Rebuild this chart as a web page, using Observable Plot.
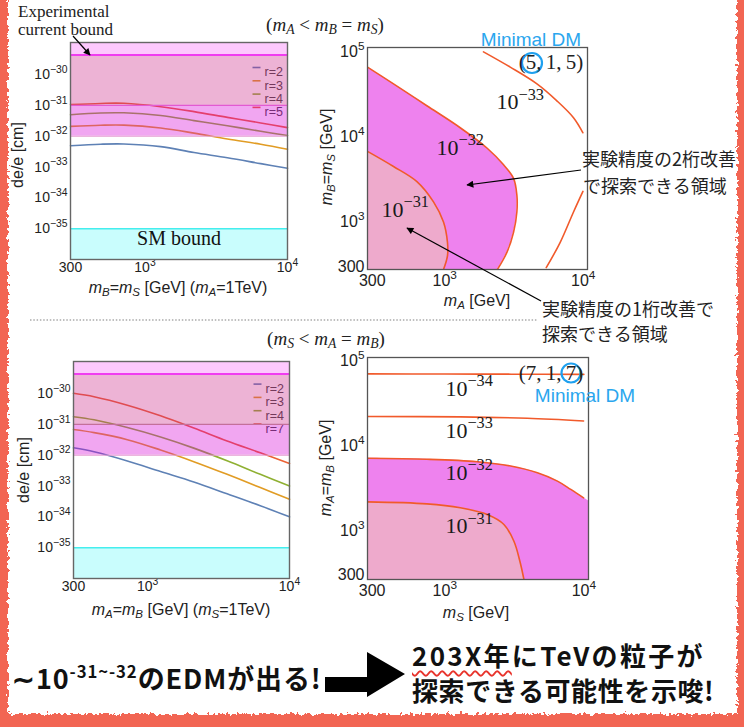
<!DOCTYPE html>
<html><head><meta charset="utf-8">
<script src="https://cdn.jsdelivr.net/npm/d3@7"></script>
<script src="https://cdn.jsdelivr.net/npm/@observablehq/plot@0.6"></script>
<style>
html,body{margin:0;padding:0;background:#fff;}
#page{position:relative;width:744px;height:727px;overflow:hidden;background:#fff;font-family:"Liberation Sans",Arial,sans-serif;color:#222;}
.abs{position:absolute;white-space:nowrap;line-height:1;}
.serif{font-family:"Liberation Serif","Times New Roman",serif;}
.jp{font-family:"Noto Sans CJK JP",sans-serif;}
sub{font-size:72%;vertical-align:-0.28em;line-height:0;}
sup{line-height:0;}
</style></head>
<body><div id="page"></div>
<script>
// ---------------- DATA ----------------
const massTicks = [300, 1000, 10000];
const massTickLabels = ["300", "10^3", "10^4"];
const heavyTicks = [300, 1000, 10000, 100000];
const heavyTickLabels = ["300", "10^3", "10^4", "10^5"];
const edmTicks = [1e-35, 1e-34, 1e-33, 1e-32, 1e-31, 1e-30];
const edmTickLabels = ["10^-35", "10^-34", "10^-33", "10^-32", "10^-31", "10^-30"];
const edmDomain = [1e-36, 1.1e-29];
const massDomain = [300, 10000];
const expBound = 4.3e-30;      // experimental current bound
const reachOneDigit = 1e-31;   // one order of magnitude improvement
const reachTwoDigit = 1e-32;   // two orders of magnitude improvement
const smBound = 1e-35;         // SM bound
const seriesColors = ["#5e81b5", "#e19c24", "#8fb032", "#eb6235"];

// upper-left panel: x = mB = mS (mA = 1 TeV)
const ulMass = [300, 488, 711, 1288, 2208, 3786, 6490, 10000];
const ulR2 = [4.9e-33, 5.5e-33, 5.6e-33, 4.6e-33, 2.95e-33, 2.0e-33, 1.29e-33, 9.1e-34];
const ulR3 = [2.09e-32, 2.27e-32, 2.29e-32, 1.86e-32, 1.26e-32, 8.1e-33, 5.5e-33, 3.8e-33];
const ulR4 = [5.0e-32, 5.7e-32, 5.75e-32, 4.7e-32, 3.2e-32, 2.19e-32, 1.45e-32, 1.05e-32];
const ulR5 = [1.07e-31, 1.16e-31, 1.17e-31, 9.1e-32, 6.3e-32, 4.1e-32, 2.7e-32, 1.9e-32];
const ulLabels = ["r=2", "r=3", "r=4", "r=5"];

// lower-left panel: x = mA = mB (mS = 1 TeV)
const llMass = [300, 419, 719, 1233, 2115, 3631, 6223, 10000];
const llR2 = [1.74e-32, 1.29e-32, 6.5e-33, 2.95e-33, 1.35e-33, 5.6e-34, 2.3e-34, 1.0e-34];
const llR3 = [6.8e-32, 5.4e-32, 3.2e-32, 1.48e-32, 6.2e-33, 2.4e-33, 8.9e-34, 3.7e-34];
const llR4 = [1.78e-31, 1.41e-31, 7.9e-32, 3.9e-32, 1.7e-32, 6.6e-33, 2.4e-33, 1.0e-33];
const llR7 = [1.02e-30, 7.9e-31, 4.2e-31, 1.9e-31, 7.6e-32, 2.9e-32, 1.2e-32, 5.4e-33];
const llLabels = ["r=2", "r=3", "r=4", "r=7"];

// upper-right panel: x = mA, y = mB = mS  (GeV), contours of de/e
const urDomainA = [277, 10740];
const urDomainBS = [277, 112000];
const ur32A  = [277, 427, 743, 1294, 2018, 2661, 3141, 3319, 3319, 3141, 2812, 2400];
const ur32BS = [65900, 41900, 23200, 12800, 7400, 4700, 3258, 2070, 1312, 759, 440, 277];
const ur31A  = [277, 427, 630, 830, 980, 1047, 1047, 980];
const ur31BS = [6760, 4490, 2980, 1722, 998, 577, 401, 277];
const ur33aA  = [1905, 2972, 4634, 6457, 8511, 9954];
const ur33aBS = [99500, 65900, 41900, 26500, 16800, 11170];
const ur33bA  = [5408, 6823, 8511, 9954];
const ur33bBS = [291, 577, 1312, 2290];
const urLabelText = ["10^-31", "10^-32", "10^-33"];
const urLabelA  = [519, 1295, 3508];
const urLabelBS = [1384, 7396, 25350];

// lower-right panel: x = mS, y = mA = mB (GeV)
const lrDomainS = [278, 10800];
const lrDomainAB = [268, 110000];
const lr34S  = [278, 1000, 3000, 10000];
const lr34AB = [70500, 70300, 70000, 69600];
const lr33S  = [278, 1294, 3917, 9954];
const lr33AB = [22200, 22000, 21200, 19700];
const lr32S  = [278, 743, 1706, 2972, 4634, 6457, 8054, 9954];
const lr32AB = [7160, 6970, 6530, 5810, 4840, 3860, 3080, 2450];
const lr32EdgeS = 10800, lr32EdgeAB = 2250;
const lr31S  = [278, 743, 1294, 2018, 2661, 3141, 3467, 3707];
const lr31AB = [2200, 2084, 1871, 1560, 1191, 755, 439, 268];
const lrLabelText = ["10^-31", "10^-32", "10^-33", "10^-34"];
const lrLabelS  = [1496, 1496, 1496, 1496];
const lrLabelAB = [1135, 4840, 15000, 46700];

// ---------------- HELPERS ----------------
const NS = "http://www.w3.org/2000/svg";
const page = document.getElementById("page");
const zip = (xs, ys) => xs.map((x, i) => ({x, y: ys[i]}));
const hline = {draw(ctx) { ctx.moveTo(-4, 0); ctx.lineTo(4, 0); }};

function richify(svg) {
  svg.querySelectorAll("text").forEach(t => {
    const s = t.textContent;
    const k = s.indexOf("^");
    if (k < 0) return;
    const base = s.slice(0, k), sup = s.slice(k + 1).replace(/-/g, "\u2212");
    t.textContent = "";
    const a = document.createElementNS(NS, "tspan"); a.textContent = base;
    const b = document.createElementNS(NS, "tspan"); b.textContent = sup;
    b.setAttribute("dy", "-0.6em"); b.setAttribute("font-size", "0.74em");
    t.append(a, b);
  });
}
function place(el, left, top) {
  el.style.position = "absolute"; el.style.left = left + "px"; el.style.top = top + "px";
  page.appendChild(el); richify(el);
}
function label(html, x, y, css = {}, anchor = "center", rotate = false) {
  const d = document.createElement("div");
  d.className = "abs"; d.innerHTML = html;
  d.style.left = x + "px"; d.style.top = y + "px";
  const tx = anchor === "center" ? "-50%" : "0";
  d.style.transform = `translate(${tx},-50%)` + (rotate ? " rotate(-90deg)" : "");
  Object.assign(d.style, css);
  page.appendChild(d);
  return d;
}

function edmPanel(mass, series, labels, m, legend, withSM) {
  const marks = [];
  series.forEach((vals, i) => {
    marks.push(Plot.line(zip(mass, vals), {x: "x", y: "y", stroke: seriesColors[i], strokeWidth: 1.6, curve: "catmull-rom"}));
  });
  labels.forEach((lab, i) => {
    marks.push(Plot.dot([lab], {frameAnchor: "top-right", dx: legend.dx - 8, dy: legend.dy + 13.3 * i, symbol: hline, stroke: seriesColors[i], strokeWidth: 1.6, r: 3}));
    marks.push(Plot.text([lab], {frameAnchor: "top-right", text: d => d, dx: legend.dx, dy: legend.dy + 13.3 * i, textAnchor: "start", fill: "#444", fontSize: 12.5}));
  });
  const x1 = massDomain[0], x2 = massDomain[1];
  marks.push(
    Plot.rect([0], {x1, x2, y1: expBound, y2: edmDomain[1], fill: "#f965f9", fillOpacity: 0.35}),
    Plot.rect([0], {x1, x2, y1: reachOneDigit, y2: expBound, fill: "#cb2687", fillOpacity: 0.35}),
    Plot.rect([0], {x1, x2, y1: reachTwoDigit, y2: reachOneDigit, fill: "#d800d8", fillOpacity: 0.35}),
    Plot.ruleY([reachTwoDigit], {stroke: "#e39ad0", strokeWidth: 1}),
    Plot.ruleY([reachOneDigit], {stroke: legend.midRule, strokeWidth: 1.3}),
    Plot.ruleY([expBound], {stroke: "#f03cf0", strokeWidth: 2}),
    Plot.rect([0], {x1, x2, y1: edmDomain[0], y2: smBound, fill: "#c9fdfd"}),
    Plot.ruleY([smBound], {stroke: "#45eeee", strokeWidth: 1.5})
  );
  if (withSM) marks.push(Plot.text(["SM bound"], {frameAnchor: "bottom", dy: -15, text: d => d, fontFamily: "Liberation Serif, serif", fontSize: 20, fill: "#111"}));
  marks.push(Plot.frame({stroke: "#666", strokeWidth: 1.4}));
  return Plot.plot({
    width: 300, height: 300,
    marginLeft: m[0], marginRight: m[1], marginTop: m[2], marginBottom: m[3],
    style: {background: "transparent", fontFamily: "Liberation Sans, Arial, sans-serif", fontSize: "14px", color: "#222", overflow: "visible"},
    x: {type: "log", domain: massDomain, ticks: massTicks, tickFormat: d => massTickLabels[massTicks.indexOf(d)], tickSize: 0, tickPadding: 3, label: null},
    y: {type: "log", domain: edmDomain, ticks: edmTicks, tickFormat: d => edmTickLabels[edmTicks.indexOf(d)], tickSize: 0, tickPadding: 3, label: null},
    marks
  });
}

const contourStroke = "#f15a2b";
const lineOpts = {x: "x", y: "y", stroke: contourStroke, strokeWidth: 1.6, curve: "catmull-rom", clip: true};
const serifLabel = {x: "x", y: "y", text: "t", fontFamily: "Liberation Serif, serif", fontSize: 22, fill: "#1a1a1a"};

function heavyAxes(xDomain, yDomain) {
  return {
    x: {type: "log", domain: xDomain, ticks: massTicks, tickFormat: d => massTickLabels[massTicks.indexOf(d)], tickSize: 0, tickPadding: 5, label: null},
    y: {type: "log", domain: yDomain, ticks: heavyTicks, tickFormat: d => heavyTickLabels[heavyTicks.indexOf(d)], tickSize: 0, tickPadding: 3, label: null}
  };
}
const rightStyle = {background: "transparent", fontFamily: "Liberation Sans, Arial, sans-serif", fontSize: "16px", color: "#222", overflow: "visible"};

// ---------------- PANELS ----------------
place(edmPanel(ulMass, [ulR2, ulR3, ulR4, ulR5], ulLabels, [70, 13, 42, 41], {dx: -23, dy: 25, midRule: "#e35ad2"}, true), 0, 0);
place(edmPanel(llMass, [llR2, llR3, llR4, llR7], llLabels, [73, 11, 41, 42], {dx: -24, dy: 22.6, midRule: "#c4709a"}, false), 0, 320);

const urLabels = urLabelText.map((t, i) => ({t, x: urLabelA[i], y: urLabelBS[i]}));
place(Plot.plot({
  width: 300, height: 320, marginLeft: 67, marginRight: 13, marginTop: 47, marginBottom: 51,
  style: rightStyle, ...heavyAxes(urDomainA, urDomainBS),
  marks: [
    Plot.areaX(zip(ur32A, ur32BS), {y: "y", x1: urDomainA[0], x2: "x", fill: "#ee82ee", curve: "catmull-rom", clip: true}),
    Plot.areaX(zip(ur31A, ur31BS), {y: "y", x1: urDomainA[0], x2: "x", fill: "#eeaacc", curve: "catmull-rom", clip: true}),
    Plot.line(zip(ur32A, ur32BS), lineOpts),
    Plot.line(zip(ur31A, ur31BS), lineOpts),
    Plot.line(zip(ur33aA, ur33aBS), lineOpts),
    Plot.line(zip(ur33bA, ur33bBS), lineOpts),
    Plot.text(urLabels, serifLabel),
    Plot.frame({stroke: "#555", strokeWidth: 1.3})
  ]
}), 300, 0);

const lrLabels = lrLabelText.map((t, i) => ({t, x: lrLabelS[i], y: lrLabelAB[i]}));
place(Plot.plot({
  width: 300, height: 300, marginLeft: 67, marginRight: 12, marginTop: 37, marginBottom: 41,
  style: rightStyle, ...heavyAxes(lrDomainS, lrDomainAB),
  marks: [
    Plot.areaY(zip(lr32S, lr32AB).concat([{x: lr32EdgeS, y: lr32EdgeAB}]), {x: "x", y1: lrDomainAB[0], y2: "y", fill: "#ee82ee", curve: "catmull-rom", clip: true}),
    Plot.areaY(zip(lr31S, lr31AB), {x: "x", y1: lrDomainAB[0], y2: "y", fill: "#eeaacc", curve: "catmull-rom", clip: true}),
    Plot.line(zip(lr34S, lr34AB), lineOpts),
    Plot.line(zip(lr33S, lr33AB), lineOpts),
    Plot.line(zip(lr32S, lr32AB), lineOpts),
    Plot.line(zip(lr31S, lr31AB), lineOpts),
    Plot.text(lrLabels, serifLabel),
    Plot.frame({stroke: "#555", strokeWidth: 1.3})
  ]
}), 300, 320);

// ---------------- DECORATION ----------------
const deco = d3.select(page).append("svg").attr("width", 744).attr("height", 727)
  .style("position", "absolute").style("left", 0).style("top", 0).style("pointer-events", "none");
const defs = deco.append("defs");
defs.append("marker").attr("id", "ah").attr("viewBox", "0 0 10 10").attr("refX", 9).attr("refY", 5)
  .attr("markerWidth", 10).attr("markerHeight", 7).attr("markerUnits", "userSpaceOnUse").attr("orient", "auto")
  .append("path").attr("d", "M0,0L10,5L0,10z").attr("fill", "#000");
const flt = defs.append("filter").attr("id", "rough").attr("filterUnits", "userSpaceOnUse")
  .attr("x", -20).attr("y", -20).attr("width", 790).attr("height", 770);
flt.append("feTurbulence").attr("type", "fractalNoise").attr("baseFrequency", 0.3).attr("numOctaves", 2).attr("seed", 7).attr("result", "noise");
flt.append("feDisplacementMap").attr("in", "SourceGraphic").attr("in2", "noise").attr("scale", 8)
  .attr("xChannelSelector", "R").attr("yChannelSelector", "G");

// rough red slide border
const border = deco.append("g").attr("filter", "url(#rough)").attr("fill", "#f26553");
border.append("rect").attr("x", -12).attr("y", -12).attr("width", 20).attr("height", 760);
border.append("rect").attr("x", 737).attr("y", -12).attr("width", 20).attr("height", 760);
border.append("rect").attr("x", -12).attr("y", 714).attr("width", 770).attr("height", 30);

// dotted separator
deco.append("line").attr("x1", 30).attr("x2", 538).attr("y1", 320).attr("y2", 320)
  .attr("stroke", "#aaa").attr("stroke-width", 1.5).attr("stroke-dasharray", "1.5,1.8");

// arrows
const arrow = (x1, y1, x2, y2) => deco.append("line").attr("x1", x1).attr("y1", y1).attr("x2", x2).attr("y2", y2)
  .attr("stroke", "#000").attr("stroke-width", 1.2).attr("marker-end", "url(#ah)");
arrow(73, 36, 90, 55);
arrow(581, 170, 467, 185);
arrow(541, 301, 407, 228);

// Minimal DM circles
deco.append("circle").attr("cx", 532).attr("cy", 63).attr("r", 10).attr("fill", "none").attr("stroke", "#1ea0ef").attr("stroke-width", 2.2);
deco.append("circle").attr("cx", 571).attr("cy", 373).attr("r", 9.5).attr("fill", "none").attr("stroke", "#1ea0ef").attr("stroke-width", 2.2);

// big black arrow
deco.append("path").attr("d", "M325,677 L367,677 L367,652 L405,674 L367,697 L367,692 L325,692 Z").attr("fill", "#000");

// ---------------- TEXT ----------------
label("Experimental", 18, 10.5, {fontSize: "17px"}, "left").classList.add("serif");
label("current bound", 18, 28.5, {fontSize: "17px"}, "left").classList.add("serif");
const serifTitle = {fontSize: "19px"};
label("(<i>m<sub>A</sub></i> &lt; <i>m<sub>B</sub></i> = <i>m<sub>S</sub></i>)", 325, 24, serifTitle).classList.add("serif");
label("(<i>m<sub>S</sub></i> &lt; <i>m<sub>A</sub></i> = <i>m<sub>B</sub></i>)", 326, 338, serifTitle).classList.add("serif");

const axLab = {fontSize: "16px"};
label("de/e [cm]", 18, 155, axLab, "center", true);
label("de/e [cm]", 24, 470, axLab, "center", true);
label("<i>m</i><sub><i>B</i></sub>=<i>m</i><sub><i>S</i></sub> [GeV] (<i>m</i><sub><i>A</i></sub>=1TeV)", 178, 288, axLab);
label("<i>m</i><sub><i>A</i></sub>=<i>m</i><sub><i>B</i></sub> [GeV] (<i>m</i><sub><i>S</i></sub>=1TeV)", 181, 610, axLab);
label("<i>m</i><sub><i>B</i></sub>=<i>m</i><sub><i>S</i></sub> [GeV]", 327, 157, axLab, "center", true);
label("<i>m</i><sub><i>A</i></sub>=<i>m</i><sub><i>B</i></sub> [GeV]", 326, 468, axLab, "center", true);
label("<i>m</i><sub><i>A</i></sub> [GeV]", 477, 301, axLab);
label("<i>m</i><sub><i>S</i></sub> [GeV]", 476, 613, axLab);

const dmCss = {fontSize: "19px", color: "#2aa6ee"};
label("Minimal DM", 531, 39, dmCss);
label("Minimal DM", 585, 395, dmCss);
label("(5,\u20091,\u20095)", 551, 62, {fontSize: "21px"}).classList.add("serif");
label("(7,\u20091,\u20097)", 551, 373, {fontSize: "21px"}).classList.add("serif");

const jpCss = {fontSize: "18px", color: "#222"};
label("実験精度の2桁改善", 582, 158, jpCss, "left").classList.add("jp");
label("で探索できる領域", 583, 185, jpCss, "left").classList.add("jp");
label("実験精度の1桁改善で", 542, 308, jpCss, "left").classList.add("jp");
label("探索できる領域", 542, 333, jpCss, "left").classList.add("jp");

const bigCss = {fontSize: "27px", fontWeight: "700", color: "#111", letterSpacing: "0.9px"};
label("\u223C10<sup style=\"font-size:62%;vertical-align:0.62em\">-31~-32</sup>のEDMが出る!", 12, 677, bigCss, "left").classList.add("jp");
label("<span style=\"text-decoration:underline wavy #e8342c;text-decoration-thickness:1.5px;text-underline-offset:4px\">203X年</span>にTeVの粒子が", 412, 655, {fontSize: "26px", fontWeight: "700", color: "#111", letterSpacing: "2.3px"}, "left").classList.add("jp");
label("探索できる可能性を示唆!", 412, 690, {fontSize: "26px", fontWeight: "700", color: "#111", letterSpacing: "0.6px"}, "left").classList.add("jp");
</script>
</body></html>
